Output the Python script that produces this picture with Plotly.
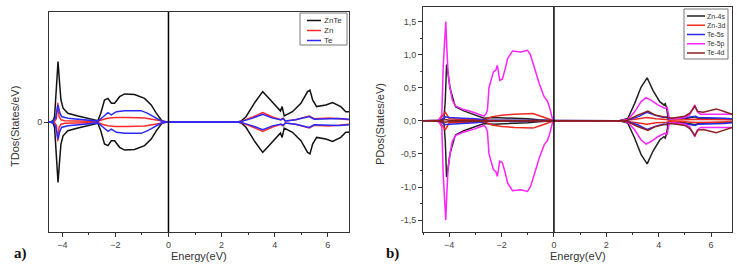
import plotly.graph_objects as go

# ---------------- DATA ----------------
# Panel a) total DOS (upper / spin-up branch; lower branch is its mirror)
tdos_names = ["ZnTe", "Zn", "Te"]
tdos_colors = ["#111111", "#ff2a2a", "#2a2aff"]

znte_E = [-4.5, -4.35, -4.29, -4.22, -4.16, -4.1, -4.05, -3.97, -3.79, -3.41, -3.0, -2.66, -2.55, -2.47,
          -2.41, -2.28, -2.15, -2.03, -1.84, -1.65, -1.28, -0.9, -0.65, -0.46, -0.27, -0.15, 0.0,
          2.6, 2.75, 2.92, 3.23, 3.55, 3.73, 4.05, 4.22, 4.28, 4.36, 4.67, 4.99, 5.24, 5.33, 5.43,
          5.58, 5.93, 6.18, 6.49, 6.68, 6.8]
znte_V = [0, 0.01, 0.05, 0.29, 0.55, 0.35, 0.2, 0.125, 0.079, 0.055, 0.035, 0.012, 0.08, 0.155,
          0.2, 0.215, 0.17, 0.17, 0.23, 0.255, 0.25, 0.215, 0.155, 0.08, 0.018, 0.0, 0,
          0, 0.01, 0.048, 0.17, 0.276, 0.23, 0.14, 0.1, 0.14, 0.055, 0.094, 0.17, 0.276, 0.29, 0.2,
          0.14, 0.155, 0.176, 0.14, 0.094, 0.094]

zn_E = [-4.5, -4.3, -4.22, -4.17, -4.12, -4.05, -3.9, -3.5, -2.66, -2.5, -2.28, -2.0, -1.53, -0.9,
        -0.53, -0.25, -0.1, 0, 2.6, 2.8, 3.17, 3.55, 3.92, 4.23, 4.32, 4.4, 4.79, 5.3, 5.49, 6.05,
        6.43, 6.8]
zn_V = [0, 0.005, 0.03, 0.175, 0.05, 0.02, 0.012, 0.008, 0.005, 0.02, 0.034, 0.04, 0.042, 0.036,
        0.02, 0.008, 0.002, 0, 0, 0.01, 0.045, 0.085, 0.045, 0.02, 0.036, 0.01, 0.02, 0.055, 0.03, 0.036,
        0.03, 0.02]

te_E = [-4.5, -4.35, -4.25, -4.16, -4.1, -4.03, -3.79, -3.2, -2.66, -2.47, -2.28, -2.15, -1.96, -1.65,
        -1.03, -0.78, -0.53, -0.27, -0.1, 0, 2.6, 2.8, 3.17, 3.55, 3.92, 4.23, 4.32, 4.4, 4.79, 5.3,
        5.49, 6.05, 6.43, 6.8]
te_V = [0, 0.005, 0.04, 0.155, 0.09, 0.05, 0.035, 0.02, 0.008, 0.045, 0.085, 0.064, 0.094, 0.103,
        0.103, 0.079, 0.048, 0.009, 0.002, 0, 0, 0.008, 0.035, 0.07, 0.035, 0.02, 0.03, 0.01, 0.02, 0.05,
        0.025, 0.03, 0.032, 0.025]

# Panel b) partial DOS
pdos_names = ["Zn-4s", "Zn-3d", "Te-5s", "Te-5p", "Te-4d"]
pdos_colors = ["#222222", "#ee2a22", "#2a2aee", "#ff22ff", "#8e1f1f"]

zn4s_E = [-5.0, -4.4, -4.3, -4.2, -4.15, -4.1, -4.04, -3.97, -3.8, -3.75, -3.44, -3.18, -2.67, -2.3,
          -1.5, -1.0, -0.6, -0.3, 0, 2.5, 2.82, 3.08, 3.33, 3.56, 3.78, 4.04, 4.2, 4.25, 4.3, 4.36,
          4.6, 5.0, 5.3, 5.4, 5.5, 6.0, 6.5, 6.8]
zn4s_V = [0, 0, 0.02, 0.04, 0.3, 0.85, 0.71, 0.5, 0.26, 0.21, 0.15, 0.11, 0.04, 0.05,
          0.04, 0.03, 0.015, 0.005, 0, 0, 0.035, 0.26, 0.51, 0.65, 0.46, 0.29, 0.24, 0.26, 0.2, 0.04,
          0.03, 0.03, 0.05, 0.06, 0.04, 0.03, 0.03, 0.02]

zn3d_E = [-5.0, -4.4, -4.3, -4.2, -4.15, -4.08, -4.0, -3.5, -2.6, -2.4, -2.0, -1.5, -1.0, -0.8, -0.5,
          -0.25, -0.1, 0, 2.5, 2.8, 3.1, 3.55, 3.9, 4.3, 4.4, 5.0, 5.4, 6.0, 6.8]
zn3d_V = [0, 0, 0.05, 0.1, 0.13, 0.09, 0.03, 0.02, 0.02, 0.06, 0.085, 0.1, 0.115, 0.11, 0.07,
          0.03, 0.005, 0, 0, 0.01, 0.025, 0.05, 0.03, 0.02, 0.01, 0.015, 0.025, 0.02, 0.015]

te5s_E = [-5.0, -4.4, -4.3, -4.15, -4.0, -3.5, -3.0, -2.6, -2.0, -1.0, 0, 2.5, 2.8, 3.2, 3.55, 3.9,
          4.2, 4.3, 4.36, 4.6, 5.0, 5.3, 5.4, 5.5, 6.0, 6.5, 6.8]
te5s_V = [0, 0, 0.01, 0.06, 0.05, 0.04, 0.03, 0.01, 0.008, 0.005, 0, 0, 0.01, 0.06, 0.13, 0.08,
          0.05, 0.06, 0.03, 0.04, 0.045, 0.06, 0.07, 0.05, 0.05, 0.04, 0.03]

te5p_E = [-5.0, -4.45, -4.36, -4.28, -4.23, -4.18, -4.13, -4.09, -4.04, -3.97, -3.88, -3.75, -3.44,
          -3.05, -2.67, -2.6, -2.54, -2.48, -2.41, -2.31, -2.22, -2.16, -2.07, -1.97, -1.85, -1.77,
          -1.58, -1.26, -1.01, -0.9, -0.75, -0.56, -0.37, -0.25, -0.15, -0.05, 0.0,
          2.5, 2.82, 3.08, 3.33, 3.52, 3.72, 3.97, 4.23, 4.33, 4.38, 4.42, 4.6, 5.0, 5.18, 5.3,
          5.38, 5.47, 5.6, 5.8, 6.0, 6.25, 6.5, 6.8]
te5p_V = [0, 0, 0.035, 0.1, 0.8, 1.25, 1.5, 1.1, 0.71, 0.5, 0.31, 0.22, 0.17,
          0.126, 0.07, 0.1, 0.16, 0.5, 0.61, 0.74, 0.765, 0.84, 0.61, 0.63, 0.8, 0.94,
          1.056, 1.04, 1.066, 1.0, 0.81, 0.56, 0.36, 0.3, 0.18, 0.02, 0,
          0, 0.02, 0.136, 0.29, 0.35, 0.31, 0.24, 0.19, 0.2, 0.08, 0.03, 0.03, 0.05, 0.09, 0.17,
          0.24, 0.14, 0.1, 0.1, 0.1, 0.11, 0.1, 0.1]

te4d_E = [-5.0, -4.4, -4.25, -4.15, -4.0, -3.0, 0, 2.5, 2.8, 3.2, 3.59, 3.85, 4.3, 4.5, 5.0, 5.2,
          5.38, 5.5, 5.7, 6.0, 6.2, 6.5, 6.8]
te4d_V = [0, 0, 0.01, 0.02, 0.01, 0.005, 0, 0, 0.01, 0.086, 0.146, 0.09, 0.05, 0.04, 0.07, 0.12,
          0.22, 0.14, 0.13, 0.16, 0.18, 0.14, 0.1]

x_ticks = [-4, -2, 0, 2, 4, 6]
pdos_yticks = [-1.5, -1.0, -0.5, 0.0, 0.5, 1.0, 1.5]
pdos_yticktext = ["-1,5", "-1,0", "-0,5", "0,0", "0,5", "1,0", "1,5"]

tdos_series = [(znte_E, znte_V), (zn_E, zn_V), (te_E, te_V)]
pdos_series = [(zn4s_E, zn4s_V), (zn3d_E, zn3d_V), (te5s_E, te5s_V), (te5p_E, te5p_V), (te4d_E, te4d_V)]

# ---------------- FIGURE ----------------
W, H = 737, 272
fig = go.Figure()


def mirrored(E, V):
    xs = list(E) + [None] + list(E)
    ys = list(V) + [None] + [-v for v in V]
    return xs, ys


for (E, V), name, col in zip(tdos_series, tdos_names, tdos_colors):
    xs, ys = mirrored(E, V)
    fig.add_trace(go.Scatter(x=xs, y=ys, mode="lines", name=name, line=dict(color=col, width=1.5),
                             xaxis="x", yaxis="y", showlegend=False, hoverinfo="skip"))

for (E, V), name, col in zip(pdos_series, pdos_names, pdos_colors):
    xs, ys = mirrored(E, V)
    fig.add_trace(go.Scatter(x=xs, y=ys, mode="lines", name=name, line=dict(color=col, width=1.5),
                             xaxis="x2", yaxis="y2", showlegend=False, hoverinfo="skip"))

axis_common = dict(showline=True, mirror=True, linecolor="#333333", linewidth=1, showgrid=False,
                   zeroline=False, ticks="outside", ticklen=4, tickcolor="#333333",
                   tickfont=dict(family="Liberation Sans, Arial", size=9, color="#444444"))

fig.update_layout(
    width=W, height=H, margin=dict(l=0, r=0, t=0, b=0),
    paper_bgcolor="white", plot_bgcolor="white",
    xaxis=dict(domain=[49 / W, 349 / W], range=[-4.5, 6.8], tickvals=x_ticks,
               minor=dict(dtick=1, tick0=0, ticklen=2, ticks="outside", tickcolor="#333333"),
               anchor="y", **axis_common),
    yaxis=dict(domain=[40 / H, 260 / H], range=[-1, 1], tickvals=[0], ticktext=["0"],
               anchor="x", **axis_common),
    xaxis2=dict(domain=[423 / W, 732 / W], range=[-5.0, 6.8], tickvals=x_ticks,
                minor=dict(dtick=1, tick0=0, ticklen=2, ticks="outside", tickcolor="#333333"),
                anchor="y2", **axis_common),
    yaxis2=dict(domain=[40 / H, 265 / H], range=[-1.68, 1.72], tickvals=pdos_yticks,
                ticktext=pdos_yticktext,
                minor=dict(dtick=0.25, tick0=0, ticklen=2, ticks="outside", tickcolor="#333333"),
                anchor="x2", **axis_common),
)

# Fermi level lines
fig.add_shape(type="line", xref="x", yref="y domain", x0=0, x1=0, y0=0, y1=1,
              line=dict(color="black", width=1.5))
fig.add_shape(type="line", xref="x2", yref="y2 domain", x0=0, x1=0, y0=0, y1=1,
              line=dict(color="black", width=1.5))


def px(x):
    return x / W


def py(y):
    return 1 - y / H


def text_at(x, y, text, font, angle=0, xanchor="center"):
    fig.add_annotation(x=px(x), y=py(y), xref="paper", yref="paper", text=text, textangle=angle,
                       showarrow=False, xanchor=xanchor, yanchor="middle", font=font)


font_t = dict(family="Liberation Sans, Arial", size=11, color="#333333")
# Axis titles
text_at(15, 127, "TDos(States/eV)", font_t, angle=-90)
text_at(380, 124, "PDos(States/eV)", font_t, angle=-90)
text_at(199, 256, "Energy(eV)", font_t)
text_at(578, 256, "Energy(eV)", font_t)
# Panel labels
font_lbl = dict(family="Liberation Serif, Times New Roman", size=15, color="#111111")
text_at(20, 253, "<b>a)</b>", font_lbl)
text_at(392, 253, "<b>b)</b>", font_lbl)


# Custom compact legends
def draw_legend(names, colors, box, y0, step, lx0, lx1, tx, fsize):
    x0b, y0b, x1b, y1b = box
    fig.add_shape(type="rect", xref="paper", yref="paper", x0=px(x0b), x1=px(x1b), y0=py(y1b), y1=py(y0b),
                  line=dict(color="#777777", width=1), fillcolor="white")
    for i, (n, c) in enumerate(zip(names, colors)):
        yy = y0 + i * step
        fig.add_shape(type="line", xref="paper", yref="paper", x0=px(lx0), x1=px(lx1), y0=py(yy), y1=py(yy),
                      line=dict(color=c, width=1.5))
        text_at(tx, yy, n, dict(family="Liberation Sans, Arial", size=fsize, color="#333333"),
                xanchor="left")


draw_legend(tdos_names, tdos_colors, (300, 13, 347, 45), 20.5, 10, 307, 321, 322, 8)
draw_legend(pdos_names, pdos_colors, (684, 9, 728, 59), 16, 9.25, 687, 705, 705, 7)

fig.write_html("out.html", config={"displayModeBar": False},
               post_script="document.body.style.margin='0';")
